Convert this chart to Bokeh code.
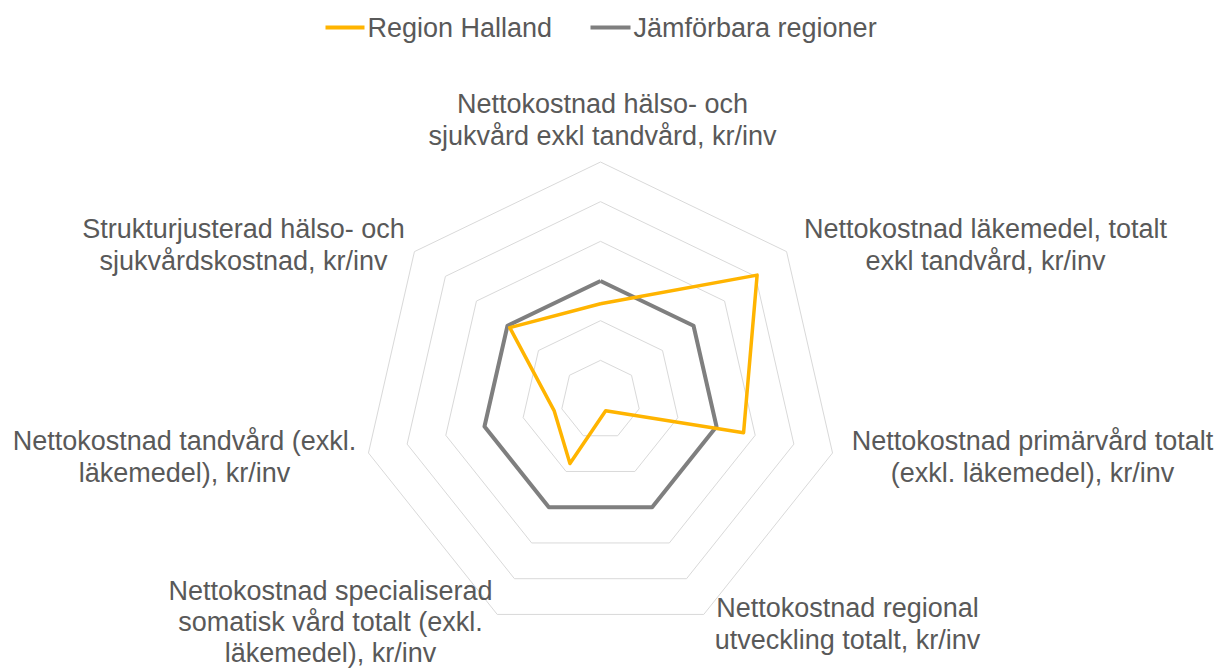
import numpy as np
from bokeh.plotting import figure
from bokeh.models import Range1d
from bokeh.core.properties import value
from bokeh.embed import file_html
from bokeh.resources import INLINE

# ---------------- data ----------------
categories = [
    "Nettokostnad hälso- och\nsjukvård exkl tandvård, kr/inv",
    "Nettokostnad läkemedel, totalt\nexkl tandvård, kr/inv",
    "Nettokostnad primärvård totalt\n(exkl. läkemedel), kr/inv",
    "Nettokostnad regional\nutveckling totalt, kr/inv",
    "Nettokostnad specialiserad\nsomatisk vård totalt (exkl.\nläkemedel), kr/inv",
    "Nettokostnad tandvård (exkl.\nläkemedel), kr/inv",
    "Strukturjusterad hälso- och\nsjukvårdskostnad, kr/inv",
]
region_halland = [88.5, 141, 114, 46, 75.5, 64, 98.5]
jamforbara_regioner = [100, 100, 100, 100, 100, 100, 100]
series_names = ["Region Halland", "Jämförbara regioner"]
axis_min, axis_max, axis_step = 40, 160, 20

# ---------------- layout ----------------
W, H = 1221, 668
CX, CY = 600, 399.5
R_PX = 238
scale = R_PX / (axis_max - axis_min)

FONT = value("Liberation Sans")
TXT = "#595959"
ORANGE = "#FFB400"
GRAY = "#7F7F7F"
GRID = "#D9D9D9"

def to_data(px, py):
    return (px - CX) / scale, (CY - py) / scale

n = len(categories)
theta = np.pi / 2 - 2 * np.pi * np.arange(n) / n

def polar(vals):
    r = np.asarray(vals, dtype=float) - axis_min
    xs = list(r * np.cos(theta)) + [r[0] * np.cos(theta[0])]
    ys = list(r * np.sin(theta)) + [r[0] * np.sin(theta[0])]
    return xs, ys

p = figure(width=W, height=H,
           x_range=Range1d(-CX / scale, (W - CX) / scale),
           y_range=Range1d(-(H - CY) / scale, CY / scale),
           toolbar_location=None, output_backend="svg",
           x_axis_location=None, y_axis_location=None,
           min_border=0)
p.grid.visible = False
p.outline_line_color = None
p.background_fill_color = "white"
p.border_fill_color = "white"

# grid rings
levels = np.arange(axis_min + axis_step, axis_max + axis_step / 2, axis_step)
gx, gy = [], []
for lv in levels:
    xs, ys = polar([lv] * n)
    gx.append(xs)
    gy.append(ys)
p.multi_line(gx, gy, line_color=GRID, line_width=1)

# series
xs, ys = polar(jamforbara_regioner)
p.line(xs, ys, line_color=GRAY, line_width=4, line_join="round")
xs, ys = polar(region_halland)
p.line(xs, ys, line_color=ORANGE, line_width=3.5, line_join="round")

# category labels (anchor = centre of first line, pixel layout)
label_anchor_px = [(602, 103), (985, 228), (1032, 440), (847, 607),
                   (330, 590), (184, 440), (243, 228)]
line_heights = [32, 32, 32, 32, 31, 32, 32]
lx, ly, lt = [], [], []
for cat, (ax, ay), lh in zip(categories, label_anchor_px, line_heights):
    for k, line in enumerate(cat.split("\n")):
        dx, dy = to_data(ax, ay + k * lh)
        lx.append(dx); ly.append(dy); lt.append(line)
p.text(lx, ly, text=lt, text_font=FONT, text_font_size="27px",
       text_color=TXT, text_align="center", text_baseline="middle")

# legend (manual)
LY = 27
for (x0, x1, tx), col, name in zip([(325, 364, 367), (590, 630, 633)],
                                   [ORANGE, GRAY], series_names):
    a = to_data(x0, LY); b = to_data(x1, LY)
    p.line([a[0], b[0]], [a[1], b[1]], line_color=col, line_width=4)
    t = to_data(tx, LY)
    p.text([t[0]], [t[1]], text=[name], text_font=FONT, text_font_size="27px",
           text_color=TXT, text_align="left", text_baseline="middle")

open("out.html", "w").write(file_html(p, INLINE))
